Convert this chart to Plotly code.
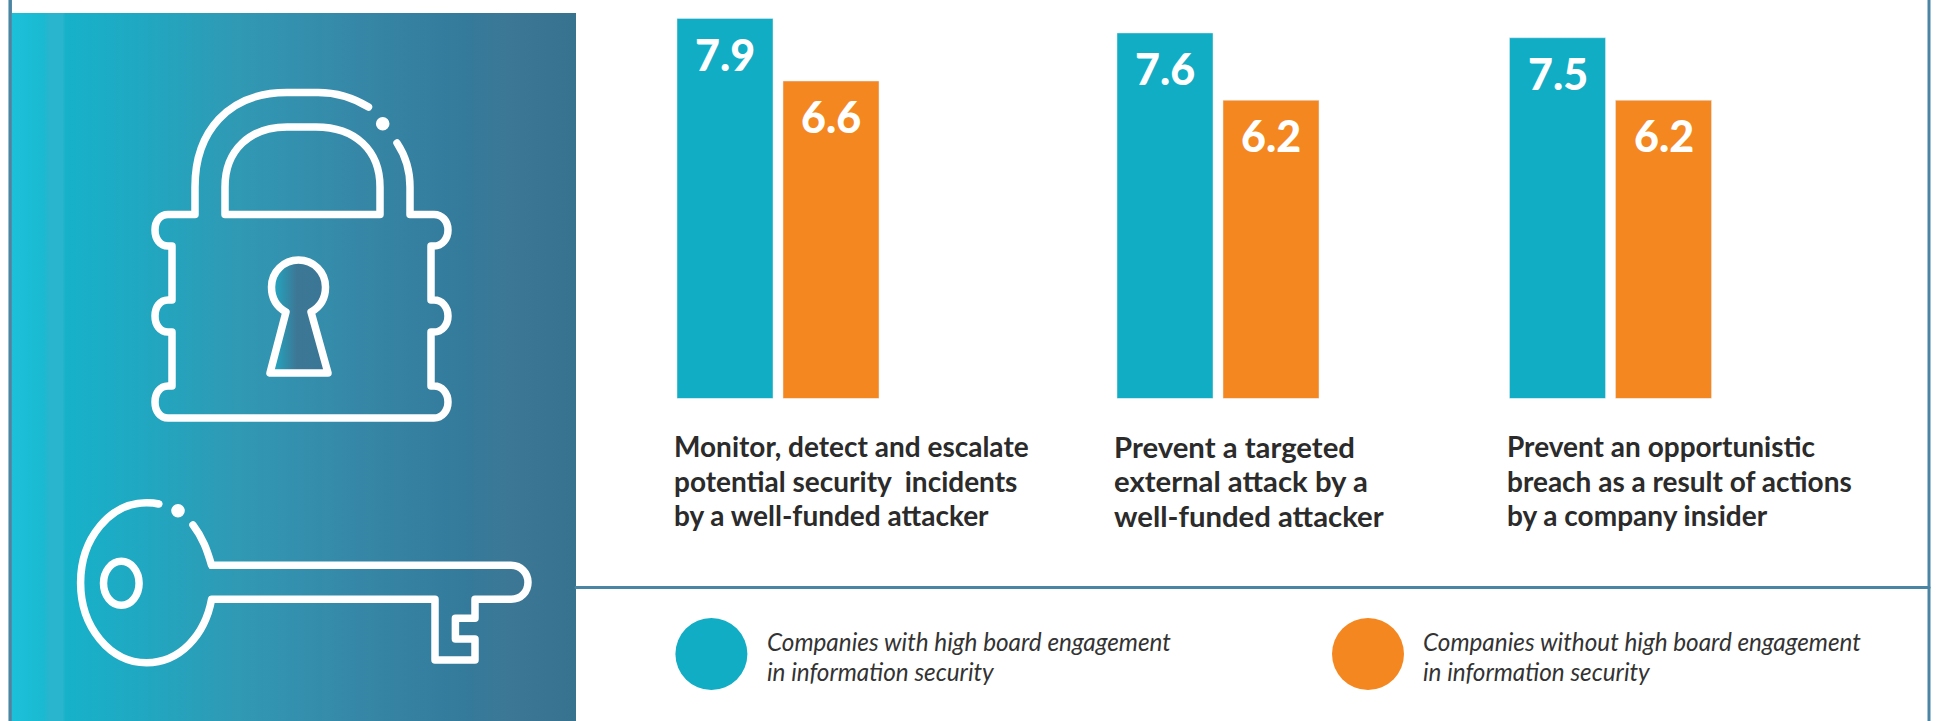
import plotly.graph_objects as go

W, H = 1941, 721
categories = ["Monitor, detect and escalate<br>potential security  incidents<br>by a well-funded attacker",
              "Prevent a targeted<br>external attack by a<br>well-funded attacker",
              "Prevent an opportunistic<br>breach as a result of actions<br>by a company insider"]
series_names = ["Companies with high board engagement<br>in information security",
                "Companies without high board engagement<br>in information security"]
high_values = [7.9, 7.6, 7.5]
low_values = [6.6, 6.2, 6.2]
TEAL, ORANGE = "#11ADC5", "#F58720"
LINE = "#4A86A3"
INK = "#2B2B2B"
FONT = "Lato"

group_px = [(672, 884), (1112, 1324), (1504.5, 1716.5)]
label_x = [671.5, 1111.5, 1504.5]
label_size = [28, 29.3, 28]
legend_x = [765, 1421]
Y_BOTTOM, Y_TOP = 398.5, 13.7
Y_MAX = 8

panel_stops = [(0.0, "#1CC0D8"), (0.055, "#19BAD2"), (0.065, "#28B5CD"), (0.09, "#28B5CD"),
               (0.095, "#16B2CA"), (0.25, "#22A6C0"), (0.40, "#3099B4"), (0.60, "#3688A8"),
               (0.80, "#347A9B"), (0.88, "#3C7896"), (1.0, "#37728F")]
key_stops = [(0.0, "#1FAEC8"), (0.45, "#3C7896"), (1.0, "#3A7595")]

lock_outer = ("M368.5,107 C352,97 335,92.5 318,92.5 L287,92.5 C228,92.5 195,132 195,187 L195,214.5 L168,214.5 "
              "C160,214.5 155,221 155,230 C155,239 160,246 168,246 L172,246 L172,300 L168,300 "
              "C160,300 155,307 155,316 C155,325 160,332 168,332 L172,332 L172,386 L168,386 "
              "C160,386 155,393 155,402 C155,411 160,418 168,418 L434,418 "
              "C442,418 448,411 448,402 C448,393 442,386 434,386 L431,386 L431,332 L434,332 "
              "C442,332 448,325 448,316 C448,307 442,300 434,300 L431,300 L431,246 L434,246 "
              "C442,246 448,239 448,230 C448,221 442,214.5 434,214.5 L410,214.5 L410,187 C410,170 405,155 397,143")
lock_inner = "M225,214.5 L225,187 C225,150 250,127 287,127 L316,127 C355,127 380,150 380,187 L380,214.5 Z"
keyhole = ("M311,312 C320,307 325.5,298 325.5,287 C325.5,272 313.5,260 298.5,260 C283.5,260 271.5,272 271.5,287 "
           "C271.5,298 277,307 286,312 L270,373 L328,373 Z")
keyhole_x = [311, 321, 325, 317, 298.5, 280, 272, 276, 286, 270, 328, 311]
keyhole_y = [312, 303, 287, 268, 260, 268, 287, 303, 312, 373, 373, 312]
key_body = ("M158.8,504 C155,503 150,502.7 146.6,502.7 C110,502.7 80.6,538.5 80.6,582.7 C80.6,627 110,662.7 146.6,662.7 "
            "C180,662.7 205,635 211.6,599.3 L435,599.3 L435,660 L475,660 L475,639 L455.4,639 L455.4,618.3 L475,618.3 "
            "L475,599.3 L511,599.3 C521,599.3 528,592 528,582.3 C528,573 521,565.3 511,565.3 L211.6,565.3 "
            "C207,550 203,538 193,525")

fig = go.Figure()

# Overlay pixel-space axis for the decorative panel and the icons
fig.add_trace(go.Scatter(x=[12, 576, 576, 12, 12], y=[13, 13, H, H, 13], xaxis="x4", yaxis="y4",
                         mode="none", fill="toself", hoverinfo="skip", showlegend=False,
                         fillgradient=dict(type="horizontal", colorscale=panel_stops)))
fig.add_trace(go.Scatter(x=keyhole_x, y=keyhole_y, xaxis="x4", yaxis="y4",
                         mode="none", fill="toself", hoverinfo="skip", showlegend=False,
                         fillgradient=dict(type="horizontal", colorscale=key_stops)))

for i, (hi, lo) in enumerate(zip(high_values, low_values)):
    ax = "x" if i == 0 else f"x{i + 1}"
    ay = "y" if i == 0 else f"y{i + 1}"
    cat = [f"g{i}"]
    fig.add_trace(go.Bar(x=cat, y=[hi], xaxis=ax, yaxis=ay, marker_color=TEAL, offsetgroup="a", showlegend=False))
    fig.add_trace(go.Bar(x=cat, y=[lo], xaxis=ax, yaxis=ay, marker_color=ORANGE, offsetgroup="b", showlegend=False))
    for v, dx in ((hi, -53), (lo, 53)):
        fig.add_annotation(x=cat[0], y=v, xref=ax, yref=ay, xshift=dx, yshift=-8, yanchor="top", xanchor="center",
                           text=f"{v:.1f}", showarrow=False,
                           font=dict(family=FONT, size=43, color="white", weight=900))
    for j, line in enumerate(categories[i].split("<br>")):
        fig.add_annotation(x=label_x[i], y=446 + 34.5 * j, xref="x4", yref="y4", xanchor="left", yanchor="middle",
                           align="left", text=line, showarrow=False,
                           font=dict(family=FONT, size=label_size[i], color=INK, weight=700))

layout_axes = {}
for i, (x0, x1) in enumerate(group_px):
    s = "" if i == 0 else str(i + 1)
    layout_axes[f"xaxis{s}"] = dict(domain=[x0 / W, x1 / W], anchor=f"y{s}", visible=False, type="category")
    layout_axes[f"yaxis{s}"] = dict(domain=[1 - Y_BOTTOM / H, 1 - Y_TOP / H], anchor=f"x{s}", range=[0, Y_MAX], visible=False)
layout_axes["xaxis4"] = dict(domain=[0, 1], range=[0, W], anchor="y4", visible=False)
layout_axes["yaxis4"] = dict(domain=[0, 1], range=[H, 0], anchor="x4", visible=False)

white = dict(color="white", width=7.5)
shapes = [dict(type="path", path=p, xref="x4", yref="y4", line=white, layer="above")
          for p in (lock_outer, lock_inner, keyhole, key_body)]


def ellipse(cx, cy, rx, ry, **kw):
    return dict(type="circle", xref="x4", yref="y4", x0=cx - rx, x1=cx + rx, y0=cy - ry, y1=cy + ry, layer="above", **kw)


shapes += [
    ellipse(382.7, 123.7, 6.8, 6.8, fillcolor="white", line_width=0),
    ellipse(178, 510.7, 6.8, 6.8, fillcolor="white", line_width=0),
    ellipse(121.3, 583.3, 17.8, 22, line=white),
    ellipse(711.4, 654, 36, 36, fillcolor=TEAL, line_width=0),
    ellipse(1368, 654, 36, 36, fillcolor=ORANGE, line_width=0),
    dict(type="line", xref="x4", yref="y4", x0=10.2, x1=10.2, y0=0, y1=H, line=dict(color=LINE, width=3.5), layer="above"),
    dict(type="line", xref="x4", yref="y4", x0=1929, x1=1929, y0=0, y1=H, line=dict(color=LINE, width=3), layer="above"),
    dict(type="line", xref="x4", yref="y4", x0=576, x1=1929, y0=587.5, y1=587.5, line=dict(color=LINE, width=3), layer="above"),
]

for name, x in zip(series_names, legend_x):
    for j, line in enumerate(name.split("<br>")):
        fig.add_annotation(x=x, y=641 + 30 * j, xref="x4", yref="y4", xanchor="left", yanchor="middle", align="left",
                           text=f"<i>{line}</i>", showarrow=False,
                           font=dict(family=FONT, size=24.3, color="#333333"))

fig.update_layout(width=W, height=H, margin=dict(l=0, r=0, t=0, b=0), autosize=False,
                  paper_bgcolor="white", plot_bgcolor="rgba(0,0,0,0)", barmode="group",
                  bargap=0, bargroupgap=10 / 106, shapes=shapes, **layout_axes)

post = """
document.body.style.margin='0';document.documentElement.style.overflow='hidden';
function rnd(){document.querySelectorAll('.shapelayer path').forEach(function(p){p.style.strokeLinecap='round';p.style.strokeLinejoin='round';});}
rnd();setTimeout(rnd,50);
"""
fig.write_html("out.html", post_script=post, config=dict(displayModeBar=False))
